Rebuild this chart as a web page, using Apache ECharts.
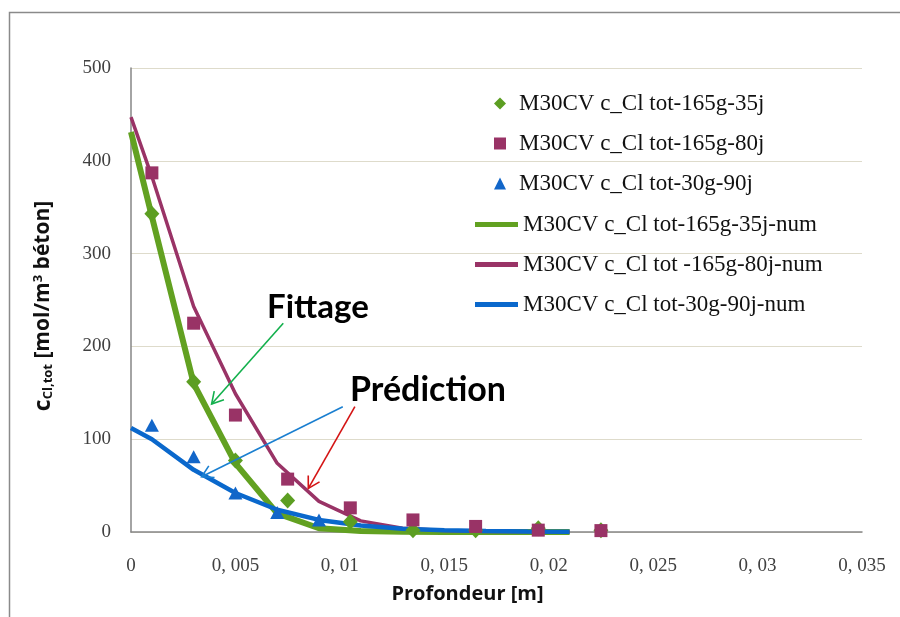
<!DOCTYPE html>
<html>
<head>
<meta charset="utf-8">
<script src="https://cdn.jsdelivr.net/npm/echarts@6/dist/echarts.min.js"></script>
<style>html,body{margin:0;padding:0;background:#fff;}#c{width:900px;height:617px;}</style>
</head>
<body>
<div id="c"></div>
<script>
// ---- data ----
var seriesNames = [
  "M30CV c_Cl tot-165g-35j",
  "M30CV c_Cl tot-165g-80j",
  "M30CV c_Cl tot-30g-90j",
  "M30CV c_Cl tot-165g-35j-num",
  "M30CV c_Cl tot -165g-80j-num",
  "M30CV c_Cl tot-30g-90j-num"
];
var xExp35 = [0.001, 0.003, 0.005, 0.0075, 0.0105, 0.0135, 0.0165, 0.0195, 0.0225];
var yExp35 = [343, 162, 77, 34, 11, 2, 2, 4, 2];
var xExp80 = [0.001, 0.003, 0.005, 0.0075, 0.0105, 0.0135, 0.0165, 0.0195, 0.0225];
var yExp80 = [387, 225, 126, 57, 26, 13, 6, 2, 1.5];
var xExp90 = [0.001, 0.003, 0.005, 0.007, 0.009];
var yExp90 = [115, 81, 42, 21, 13];
var xNum = [0, 0.001, 0.003, 0.005, 0.007, 0.009, 0.011, 0.013, 0.015, 0.017, 0.019, 0.021];
var yNum35 = [431, 340, 160, 74, 20, 4, 1, 0.3, 0.1, 0, 0, 0];
var yNum80 = [447, 383, 243, 149, 74, 33, 12, 4, 1.5, 0.5, 0.2, 0.1];
var yNum90 = [112, 100, 67, 42, 24, 13, 7, 3.5, 2, 1, 0.5, 0.3];
var xTickLabels = ["0", "0, 005", "0, 01", "0, 015", "0, 02", "0, 025", "0, 03", "0, 035"];
var yTickLabels = ["0", "100", "200", "300", "400", "500"];
var xAxisTitle = "Profondeur [m]";
var annotationTexts = ["Fittage", "Prédiction"];

// ---- annotations (data-space anchors) ----
var annotTextPos = [[0.00895, 242], [0.01422, 153]];
var arrows = [
  {from: [0.00729, 225], to: [0.00386, 138], color: "#12b04c"},
  {from: [0.01014, 135], to: [0.00338, 59.6], color: "#1a7fd0"},
  {from: [0.01072, 135], to: [0.00849, 47], color: "#d41414"}
];

function pairs(xs, ys) { return xs.map(function (x, i) { return [x, ys[i]]; }); }

var C_GREEN = "#5c9e22", C_PURPLE = "#993366", C_BLUE = "#1266c9";
var C_GLINE = "#62a121", C_BLINE = "#0a68cc";
var serif = "'Liberation Serif', 'DejaVu Serif', serif";
var bold = "Lato, 'Open Sans', sans-serif";
var bold2 = "'Open Sans', Lato, sans-serif";

var chart = echarts.init(document.getElementById("c"), null, {renderer: "canvas"});
var option = {
  animation: false,
  backgroundColor: "#fff",
  grid: {left: 131, right: 38, top: 68, bottom: 85, containLabel: false},
  xAxis: {
    type: "value", min: 0, max: 0.035, interval: 0.005,
    axisLine: {show: true, lineStyle: {color: "#868686", width: 1.5}},
    axisTick: {show: false},
    splitLine: {show: false},
    axisLabel: {margin: 25, fontFamily: serif, fontSize: 19, color: "#404040",
      formatter: function (v, i) { return xTickLabels[Math.round(v / 0.005)]; }},
    name: xAxisTitle, nameLocation: "middle", nameGap: 52,
    nameTextStyle: {fontFamily: bold2, fontWeight: "bold", fontSize: 20, color: "#111", padding: [0, 58, 0, 0]}
  },
  yAxis: {
    type: "value", min: 0, max: 500, interval: 100,
    axisLine: {show: true, lineStyle: {color: "#868686", width: 1.5}},
    axisTick: {show: false},
    splitLine: {show: true, lineStyle: {color: "#dedbcb", width: 1.2}},
    axisLabel: {margin: 20, fontFamily: serif, fontSize: 19, color: "#404040",
      formatter: function (v) { return yTickLabels[Math.round(v / 100)]; }},
    name: "{c|c}{sub|Cl,tot}{n| [mol/m}{sup|3}{n| béton]}",
    nameLocation: "middle", nameGap: 76, nameRotate: 90,
    nameTextStyle: {
      color: "#111", padding: [0, 12, 0, 0],
      rich: {
        c: {fontFamily: bold2, fontWeight: "bold", fontSize: 23, color: "#111"},
        n: {fontFamily: bold2, fontWeight: "bold", fontSize: 21, color: "#111"},
        sub: {fontFamily: bold2, fontWeight: "bold", fontSize: 13, color: "#111", verticalAlign: "bottom", padding: [10, 0, 0, 0]},
        sup: {fontFamily: bold2, fontWeight: "bold", fontSize: 13, color: "#111", verticalAlign: "top", padding: [0, 0, 10, 0]}
      }
    }
  },
  legend: [
    {
      data: seriesNames.slice(0, 3),
      orient: "vertical", left: 489, top: 87, itemGap: 17,
      itemWidth: 12, itemHeight: 12,
      textStyle: {fontFamily: serif, fontSize: 23, color: "#111", padding: [0, 0, 0, 8]}
    },
    {
      data: seriesNames.slice(3, 6).map(function (n, i) {
        return {name: n, icon: "rect", itemStyle: {color: [C_GLINE, C_PURPLE, C_BLINE][i]}};
      }),
      orient: "vertical", left: 470, top: 208, itemGap: 17,
      itemWidth: 43, itemHeight: 5,
      textStyle: {fontFamily: serif, fontSize: 23, color: "#111"}
    }
  ],
  series: [
    {name: seriesNames[0], type: "scatter", data: pairs(xExp35, yExp35), symbol: "diamond", symbolSize: [15, 16], itemStyle: {color: C_GREEN, opacity: 1}, z: 5},
    {name: seriesNames[1], type: "scatter", data: pairs(xExp80, yExp80), symbol: "rect", symbolSize: 13, itemStyle: {color: C_PURPLE, opacity: 1}, z: 5},
    {name: seriesNames[2], type: "scatter", data: pairs(xExp90, yExp90), symbol: "triangle", symbolSize: [14, 13], itemStyle: {color: C_BLUE, opacity: 1}, z: 5},
    {name: seriesNames[3], type: "line", data: pairs(xNum, yNum35), symbol: "none", showSymbol: false, lineStyle: {color: C_GLINE, width: 6}, itemStyle: {color: C_GLINE}, z: 2},
    {name: seriesNames[4], type: "line", data: pairs(xNum, yNum80), symbol: "none", showSymbol: false, lineStyle: {color: C_PURPLE, width: 3.5}, itemStyle: {color: C_PURPLE}, z: 3},
    {name: seriesNames[5], type: "line", data: pairs(xNum, yNum90), symbol: "none", showSymbol: false, lineStyle: {color: C_BLINE, width: 4.5}, itemStyle: {color: C_BLINE}, z: 3}
  ]
};
chart.setOption(option);

// annotations built from data-space anchors
var g = [];
g.push({type: "polyline", shape: {points: [[9.5, 700], [9.5, 12.5], [1000, 12.5]]}, style: {stroke: "#8a8a8a", lineWidth: 1.5, fill: null}, silent: true});
arrows.forEach(function (a) {
  var s = chart.convertToPixel({gridIndex: 0}, a.from);
  var e = chart.convertToPixel({gridIndex: 0}, a.to);
  var dx = e[0] - s[0], dy = e[1] - s[1], L = Math.sqrt(dx * dx + dy * dy);
  var ux = dx / L, uy = dy / L, hl = 13, ang = Math.PI / 6;
  function rot(x, y, t) { return [x * Math.cos(t) - y * Math.sin(t), x * Math.sin(t) + y * Math.cos(t)]; }
  var r1 = rot(-ux, -uy, ang), r2 = rot(-ux, -uy, -ang);
  g.push({type: "line", shape: {x1: s[0], y1: s[1], x2: e[0], y2: e[1]}, style: {stroke: a.color, lineWidth: 1.6}, z: 10, silent: true});
  g.push({type: "polyline", shape: {points: [[e[0] + r1[0] * hl, e[1] + r1[1] * hl], [e[0], e[1]], [e[0] + r2[0] * hl, e[1] + r2[1] * hl]]}, style: {stroke: a.color, lineWidth: 1.6, fill: null}, z: 10, silent: true});
});
annotationTexts.forEach(function (t, i) {
  var p = chart.convertToPixel({gridIndex: 0}, annotTextPos[i]);
  g.push({type: "text", x: p[0], y: p[1], style: {text: t, fontFamily: bold, fontWeight: "bold", fontSize: i === 0 ? 33 : 34, fill: "#000", align: "center", verticalAlign: "middle"}, z: 11, silent: true});
});
chart.setOption({graphic: g});
</script>
</body>
</html>
